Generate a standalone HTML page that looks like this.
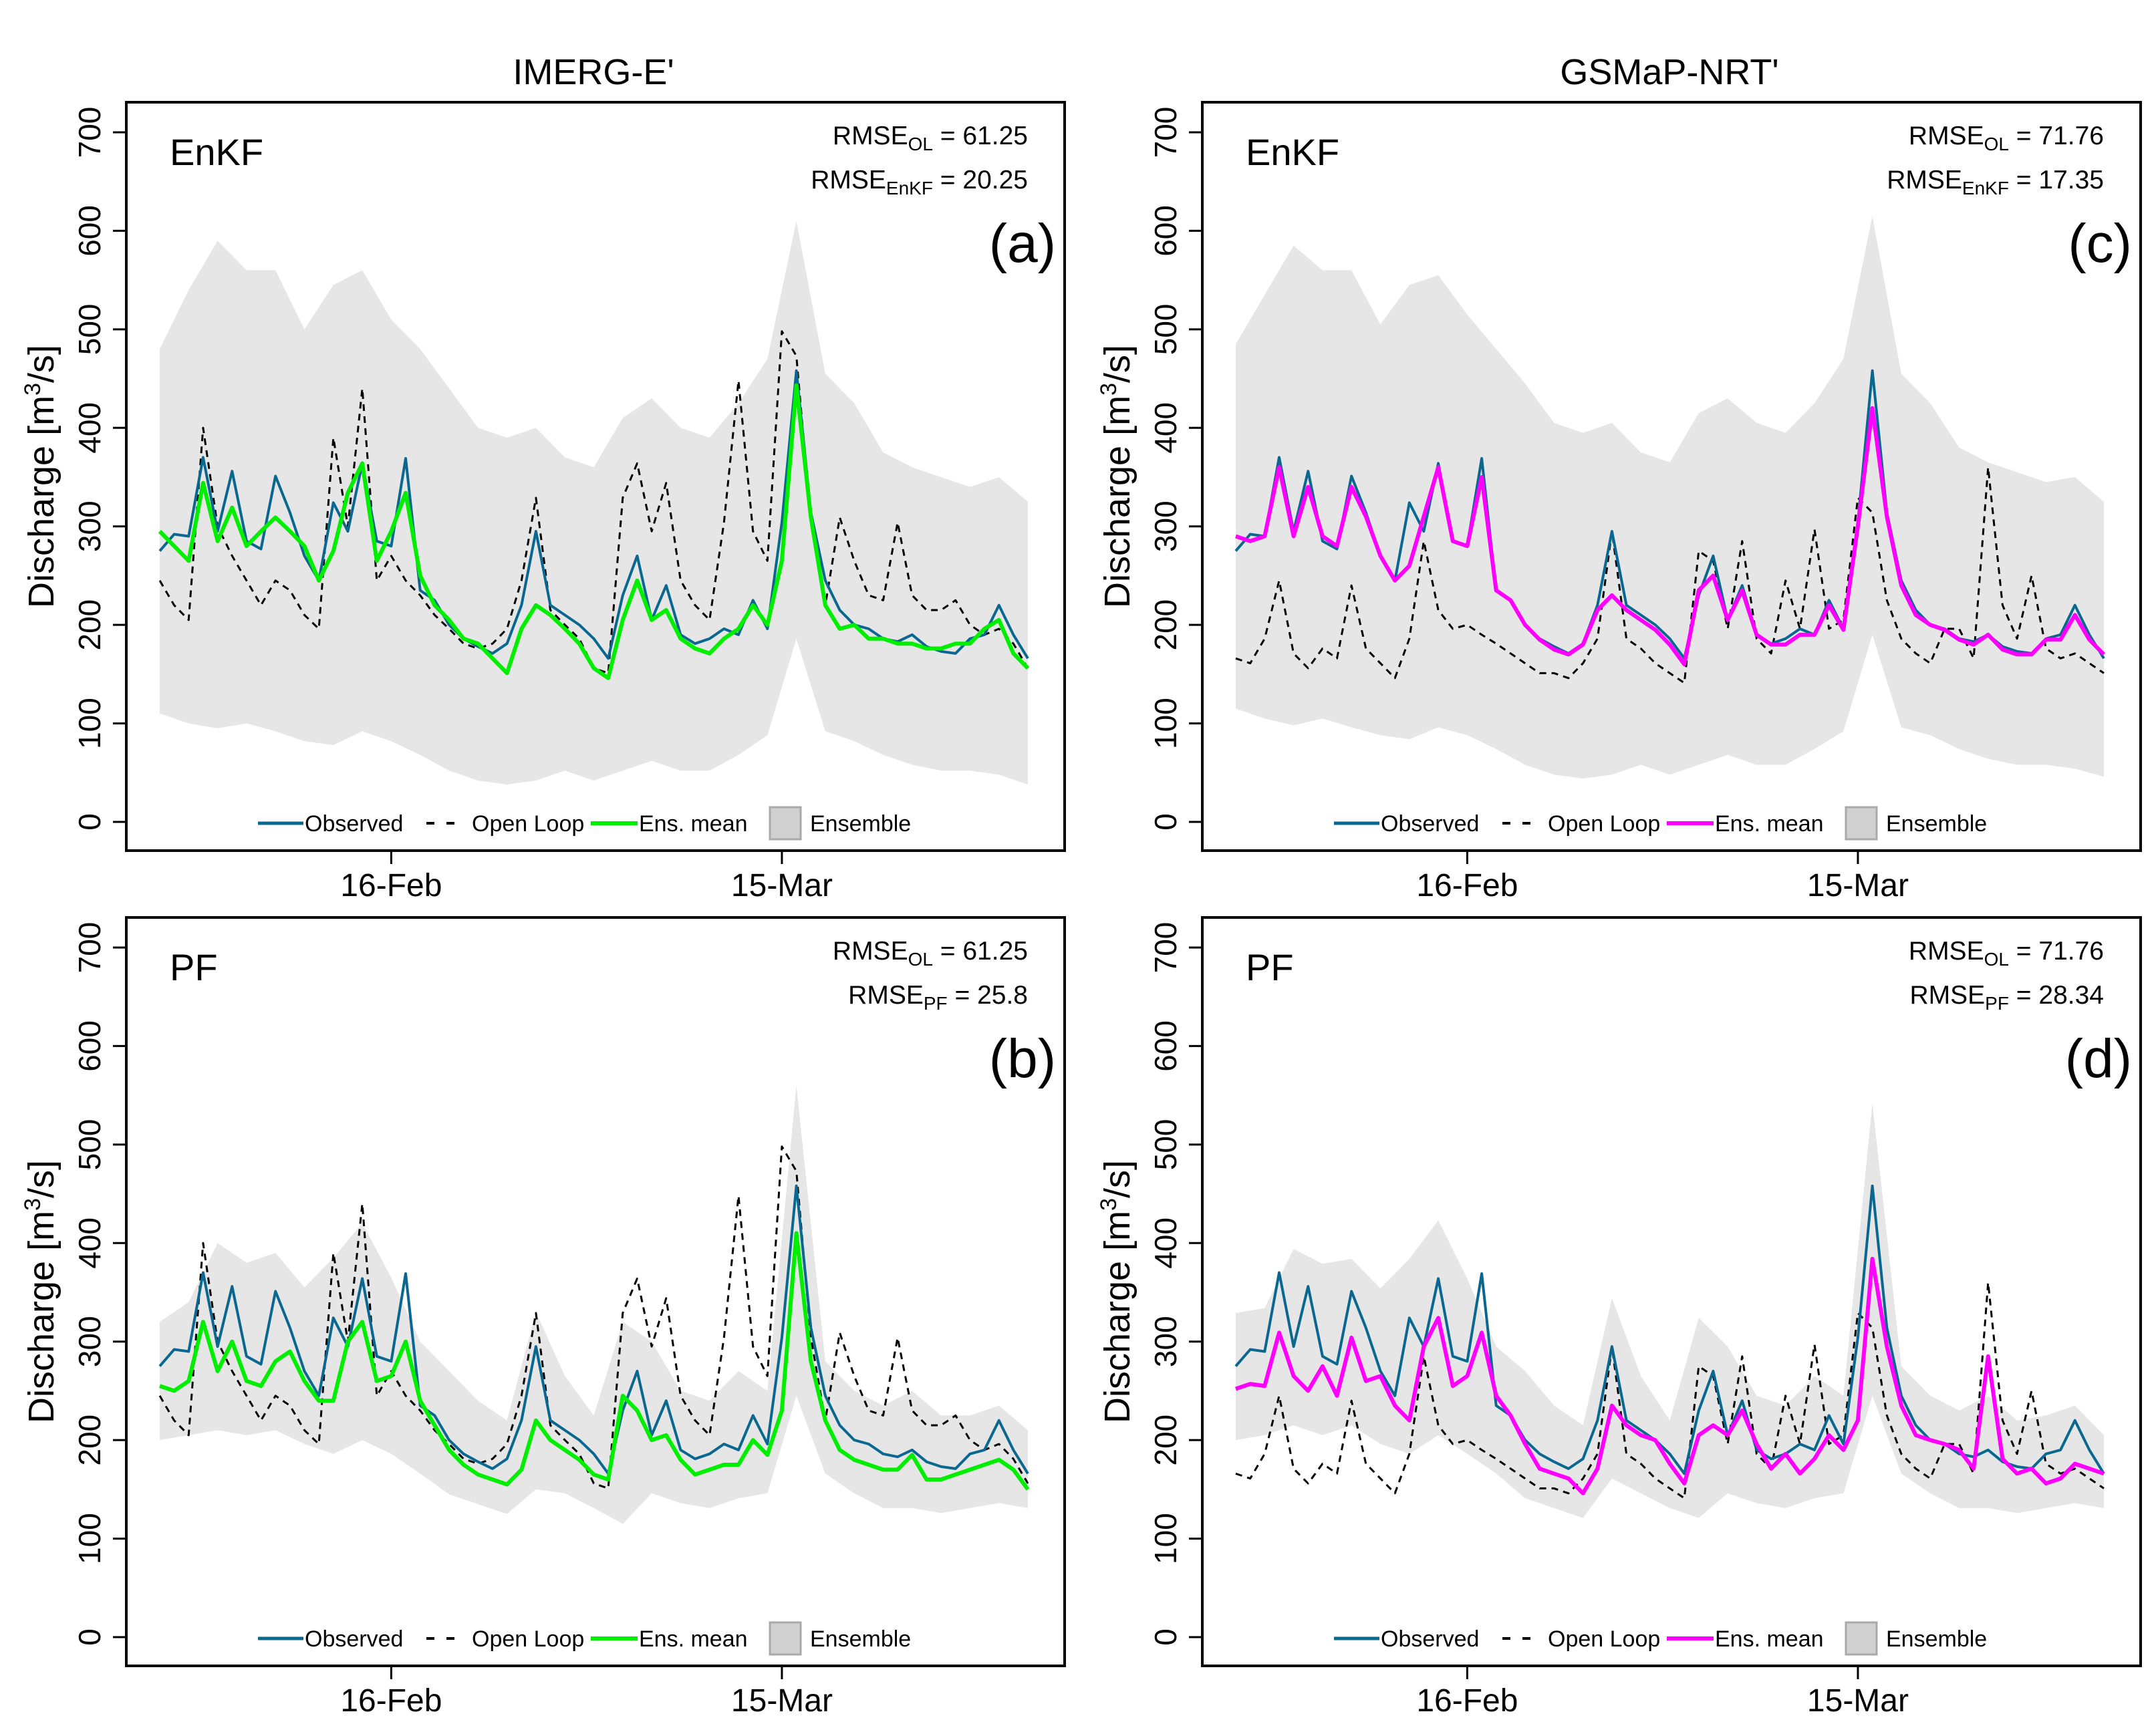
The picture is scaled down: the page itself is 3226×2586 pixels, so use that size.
<!DOCTYPE html>
<html><head><meta charset="utf-8">
<style>
html,body{margin:0;padding:0;background:#fff;}
svg{display:block;font-family:"Liberation Sans",Arial,sans-serif;}
</style></head>
<body>
<svg id="fig" width="3226" height="2586" viewBox="0 0 3226 2586" xmlns="http://www.w3.org/2000/svg">
<text x="888" y="126" font-size="54" text-anchor="middle">IMERG-E'</text>
<text x="2498" y="126" font-size="54" text-anchor="middle">GSMaP-NRT'</text>
</svg>
<script>
// daily time axis (days since 31-Jan)
const days = [];
for (let i = 0; i <= 60; i++) days.push(i);
const bandDays = [];
for (let i = 0; i <= 60; i += 2) bandDays.push(i);

const yTicks = [0,100,200,300,400,500,600,700];
const xTickDays = [16,43];
const xTickLabels = ['16-Feb','15-Mar'];

const observed = [275,292,290,370,295,356,285,277,351,314,270,245,324,295,364,285,280,369,235,225,200,186,178,171,181,220,295,220,210,200,186,166,230,270,205,240,190,181,186,196,190,225,196,304,458,314,245,215,200,196,186,183,190,178,173,171,186,190,220,190,166];
const olImerg = [245,220,205,400,300,270,245,220,245,235,210,196,390,300,440,245,270,245,230,210,196,181,176,181,196,245,329,215,200,186,156,151,329,364,295,344,245,220,205,304,448,295,265,498,473,304,220,309,265,230,225,304,230,215,215,225,200,190,196,181,156];
const olGsmap = [166,161,186,245,171,156,176,166,240,176,161,146,186,285,215,196,200,190,181,171,161,151,151,146,161,186,295,186,176,161,151,141,275,265,196,285,186,171,245,196,297,196,205,329,314,225,186,171,161,196,196,166,360,220,186,250,176,166,171,161,151];
const enkfImerg = [295,280,265,344,285,319,280,295,309,295,280,245,275,334,364,265,295,334,250,220,205,186,181,166,151,196,220,210,196,181,156,146,205,245,205,215,186,176,171,186,196,220,200,265,443,309,220,196,200,186,186,181,181,176,176,181,181,196,205,171,156];
const enkfGsmap = [290,285,290,360,290,340,290,280,340,310,270,245,260,310,360,285,280,350,235,225,200,185,175,170,180,215,230,215,205,195,180,160,235,250,205,235,190,180,180,190,190,220,195,300,420,310,240,210,200,195,185,180,190,175,170,170,185,185,210,185,170];
const pfImerg = [255,250,260,320,270,300,260,255,280,290,260,240,240,300,320,260,265,300,240,215,190,175,165,160,155,170,220,200,190,180,165,160,245,230,200,205,180,165,170,175,175,200,185,230,410,280,220,190,180,175,170,170,185,160,160,165,170,175,180,170,150];
const pfGsmap = [252,257,255,309,265,250,275,245,304,260,265,235,220,295,324,255,265,309,245,225,196,171,166,161,146,171,235,215,205,200,176,156,205,215,205,230,196,171,186,166,181,205,190,220,384,295,235,205,200,196,190,171,285,181,166,171,156,161,176,171,166];

const enkfBandUpperA = [480,540,590,560,560,500,545,560,510,480,440,400,390,400,370,360,410,430,400,390,425,470,610,455,425,375,360,350,340,350,325];
const enkfBandLowerA = [110,100,95,100,92,82,78,92,82,68,52,42,38,42,52,42,52,62,52,52,68,88,186,92,82,68,58,52,52,48,38];
const enkfBandUpperC = [485,535,585,560,560,505,545,555,515,480,445,405,395,405,375,365,415,430,405,395,425,470,615,455,425,380,365,355,345,350,325];
const enkfBandLowerC = [115,105,98,105,96,88,84,96,88,74,58,48,44,48,58,48,58,68,58,58,74,92,190,96,88,74,64,58,58,54,46];
const pfBandUpperB = [320,340,400,380,390,355,385,420,365,300,270,240,220,330,265,225,320,300,250,240,270,250,560,280,250,235,250,225,225,235,210];
const pfBandLowerB = [200,205,210,205,210,196,186,200,186,166,145,135,125,150,146,131,115,146,136,131,141,146,245,166,146,131,131,126,131,136,131];
const pfBandUpperD = [329,334,394,379,384,354,384,423,364,295,270,235,215,344,265,220,324,295,245,235,265,245,542,275,245,230,245,220,225,235,205];
const pfBandLowerD = [200,205,215,205,215,196,186,205,186,166,141,131,121,161,146,131,121,146,136,131,141,146,245,166,146,131,131,126,131,136,131];

const NS = 'http://www.w3.org/2000/svg';
const svg = document.getElementById('fig');
function mk(tag, attrs, parent){
  const e = document.createElementNS(NS, tag);
  for (const k in attrs) e.setAttribute(k, attrs[k]);
  (parent||svg).appendChild(e);
  return e;
}

const panels = [
  {id:'a', dx:0, dy:0, method:'EnKF', rmseOL:'61.25', rmse:'20.25', mean:enkfImerg, ol:olImerg, up:enkfBandUpperA, lo:enkfBandLowerA, color:'#00ee00'},
  {id:'c', dx:1610, dy:0, method:'EnKF', rmseOL:'71.76', rmse:'17.35', mean:enkfGsmap, ol:olGsmap, up:enkfBandUpperC, lo:enkfBandLowerC, color:'#ff00ff'},
  {id:'b', dx:0, dy:1220, method:'PF', rmseOL:'61.25', rmse:'25.8', mean:pfImerg, ol:olImerg, up:pfBandUpperB, lo:pfBandLowerB, color:'#00ee00'},
  {id:'d', dx:1610, dy:1220, method:'PF', rmseOL:'71.76', rmse:'28.34', mean:pfGsmap, ol:olGsmap, up:pfBandUpperD, lo:pfBandLowerD, color:'#ff00ff'}
];

panels.forEach(p => {
  const g = mk('g', {});
  
  
  const L = 189 + p.dx, R = 1593 + p.dx, T = 153 + p.dy, B = 1273 + p.dy;
  const xs = d => 239 + p.dx + d * 21.65;
  const ys = v => 1230 + p.dy - v * (1032 / 700);

  let pts = bandDays.map((d,i) => xs(d).toFixed(1) + ',' + ys(p.up[i]).toFixed(1));
  for (let i = bandDays.length - 1; i >= 0; i--) pts.push(xs(bandDays[i]).toFixed(1) + ',' + ys(p.lo[i]).toFixed(1));
  const band = mk('polygon', {points: pts.join(' '), fill:'#e6e6e6', stroke:'none'}, g);
  
  

  const line = (arr, attrs, name) => {
    const e = mk('polyline', Object.assign({points: days.map((d,i) => xs(d).toFixed(1) + ',' + ys(arr[i]).toFixed(1)).join(' '), fill:'none', 'stroke-linejoin':'round'}, attrs), g);
    
    
  };
  line(p.ol, {stroke:'#000', 'stroke-width':3, 'stroke-dasharray':'10,8'}, 'open-loop-line');
  line(observed, {stroke:'#0a6890', 'stroke-width':4}, 'observed-line');
  line(p.mean, {stroke:p.color, 'stroke-width':6}, 'ensemble-mean-line');

  const fr = mk('rect', {x:L, y:T, width:R-L, height:B-T, fill:'none', stroke:'#000', 'stroke-width':4}, g);
  
  

  yTicks.forEach(v => {
    const y = ys(v);
    mk('line', {x1:L, x2:L-20, y1:y, y2:y, stroke:'#000', 'stroke-width':3}, g);
    const t = mk('text', {x:0, y:0, 'font-size':46, 'text-anchor':'middle', transform:'translate(' + (150 + p.dx) + ',' + y + ') rotate(-90)'}, g);
    
    
    t.textContent = v;
  });
  xTickDays.forEach((d,i) => {
    const x = xs(d);
    mk('line', {x1:x, x2:x, y1:B, y2:B+20, stroke:'#000', 'stroke-width':3}, g);
    const t = mk('text', {x:x, y:B+68, 'font-size':48, 'text-anchor':'middle'}, g);
    
    
    t.textContent = xTickLabels[i];
  });
  const yt = mk('text', {x:0, y:0, 'font-size':54, 'text-anchor':'middle', transform:'translate(' + (80 + p.dx) + ',' + (713 + p.dy) + ') rotate(-90)'}, g);
  
  
  yt.innerHTML = 'Discharge [m<tspan dy="-20" font-size="34">3</tspan><tspan dy="20">/s]</tspan>';

  const ml = mk('text', {x:254 + p.dx, y:247 + p.dy, 'font-size':56}, g);
  
  
  ml.textContent = p.method;
  const pl = mk('text', {x:1580 + p.dx, y:392 + p.dy, 'font-size':82, 'text-anchor':'end'}, g);
  
  
  pl.textContent = '(' + p.id + ')';
  const r1 = mk('text', {x:1538 + p.dx, y:216 + p.dy, 'font-size':39, 'text-anchor':'end'}, g);
  
  
  r1.innerHTML = 'RMSE<tspan dy="9" font-size="28">OL</tspan><tspan dy="-9"> = ' + p.rmseOL + '</tspan>';
  const r2 = mk('text', {x:1538 + p.dx, y:282 + p.dy, 'font-size':39, 'text-anchor':'end'}, g);
  
  
  r2.innerHTML = 'RMSE<tspan dy="9" font-size="28">' + p.method + '</tspan><tspan dy="-9"> = ' + p.rmse + '</tspan>';

  const lg = mk('g', {}, g);
  
  
  const ly = 1232 + p.dy;
  mk('line', {x1:386+p.dx, x2:454+p.dx, y1:ly, y2:ly, stroke:'#0a6890', 'stroke-width':5}, lg);
  const t1 = mk('text', {x:456+p.dx, y:ly+12, 'font-size':34}, lg); t1.textContent = 'Observed';
  mk('line', {x1:638+p.dx, x2:692+p.dx, y1:ly, y2:ly, stroke:'#000', 'stroke-width':4, 'stroke-dasharray':'12,18'}, lg);
  const t2 = mk('text', {x:706+p.dx, y:ly+12, 'font-size':34}, lg); t2.textContent = 'Open Loop';
  mk('line', {x1:884+p.dx, x2:954+p.dx, y1:ly, y2:ly, stroke:p.color, 'stroke-width':6}, lg);
  const t3 = mk('text', {x:956+p.dx, y:ly+12, 'font-size':34}, lg); t3.textContent = 'Ens. mean';
  mk('rect', {x:1152+p.dx, y:ly-24, width:46, height:48, fill:'#d0d0d0', stroke:'#aaa', 'stroke-width':3}, lg);
  const t4 = mk('text', {x:1212+p.dx, y:ly+12, 'font-size':34}, lg); t4.textContent = 'Ensemble';
});
</script>
</body></html>
